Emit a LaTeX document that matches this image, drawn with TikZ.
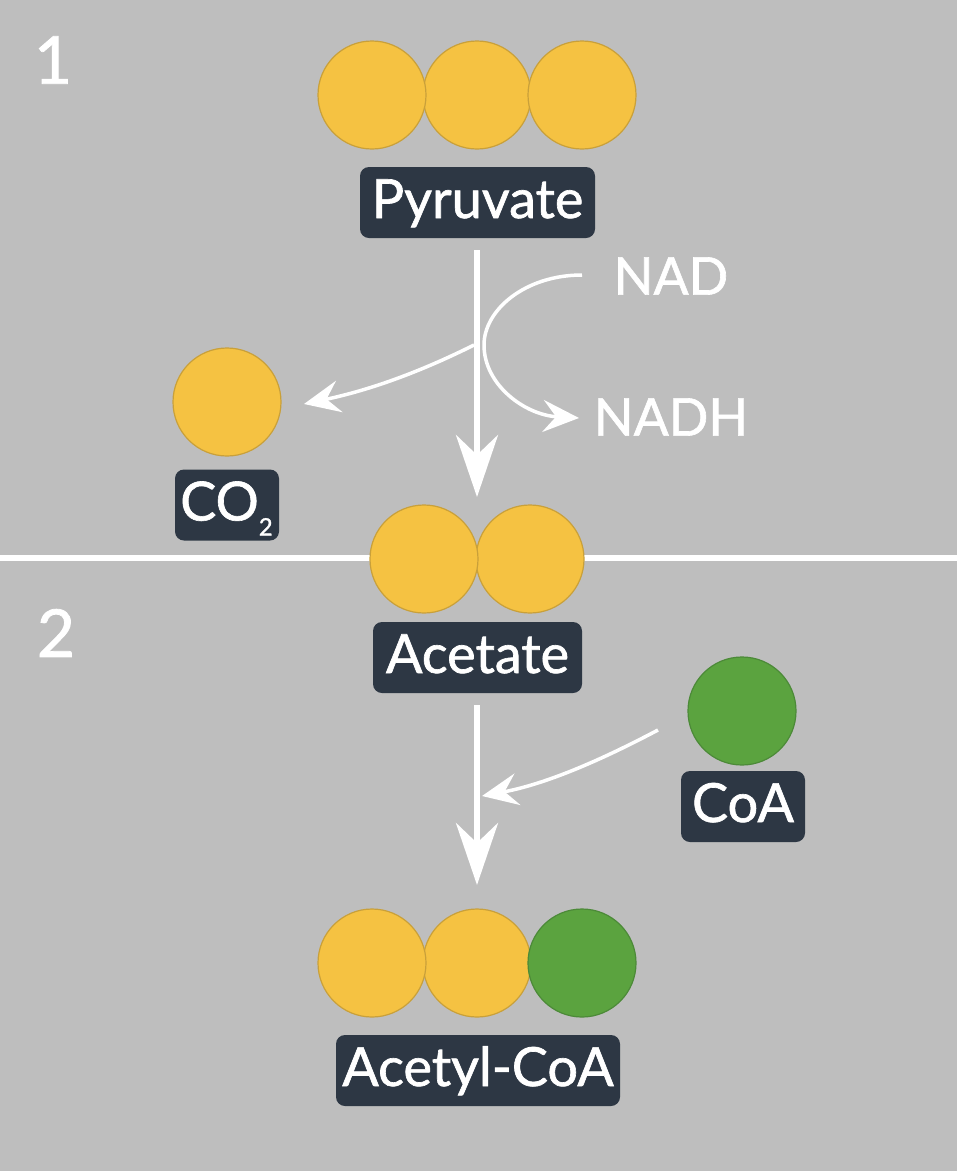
\documentclass[tikz,border=0pt]{standalone}
\usepackage{fontspec}
\setmainfont{Lato}
\newfontfamily\lblfont{Lato}[FakeBold=1.2]
\usetikzlibrary{arrows.meta}
\definecolor{bgc}{HTML}{BEBEBE}
\definecolor{yel}{HTML}{F5C242}
\definecolor{yeld}{HTML}{C9A03A}
\definecolor{grn}{HTML}{5BA33F}
\definecolor{grnd}{HTML}{4C8A38}
\definecolor{dark}{HTML}{2D3744}
\tikzset{
  x=1pt,y=-1pt,
  yball/.style={circle,draw=yeld,fill=yel,line width=1.2pt,minimum size=108pt,inner sep=0pt},
  gball/.style={circle,draw=grnd,fill=grn,line width=1.2pt,minimum size=108pt,inner sep=0pt},
  lab/.style={rectangle,rounded corners=9pt,fill=dark,text=white,font=\lblfont\fontsize{54}{58}\selectfont,inner sep=0pt,minimum height=71pt,text height=31pt,text depth=0pt,anchor=center},
  free/.style={text=white,font=\lblfont\fontsize{52}{56}\selectfont,inner sep=0pt},
  num/.style={text=white,font=\lblfont\fontsize{66}{70}\selectfont,inner sep=0pt},
  thick arrow/.style={draw=white,line width=6pt,-{Stealth[length=62pt,width=42pt,inset=20pt]}},
  thin arrow/.style={draw=white,line width=3.5pt,-{Stealth[length=36pt,width=32pt,inset=13pt]}}
}
\begin{document}
\begin{tikzpicture}
\useasboundingbox (0,0) rectangle (957,1171);
\fill[bgc] (0,0) rectangle (957,1171);
\coordinate (divL) at (0,558);
\coordinate (divR) at (957,558);
\draw[white,line width=6pt] (divL) -- (divR);
\node[num] (one) at (53,60) {1};
\node[num] (two) at (56,633) {2};
% pyruvate
\node[yball] (p3) at (477,95) {};
\node[yball] (p1) at (372,95) {};
\node[yball] (p2) at (582,95) {};
\node[lab,minimum width=235pt] (pyr) at (477.5,202.5) {Pyruvate};
% CO2
\node[yball] (c1) at (227,402) {};
\node[lab,minimum width=104pt] (co2) at (227,505) {\hspace{-1pt}CO\raisebox{-15pt}{\fontsize{24}{26}\selectfont 2}};
% acetate
\node[yball] (a2) at (530,559) {};
\node[yball] (a1) at (424,559) {};
\node[lab,minimum width=209pt] (ace) at (477.5,657.5) {Acetate};
% CoA
\node[gball] (g1) at (742,711) {};
\node[lab,minimum width=124pt] (coa) at (743,806.5) {CoA};
% acetyl-CoA
\node[yball] (b2) at (477,963) {};
\node[yball] (b1) at (372,963) {};
\node[gball] (b3) at (582,963) {};
\node[lab,minimum width=284pt] (acc) at (478,1070.5) {Acetyl-CoA};
% text
\node[free] (nad) at (671,276) {NAD};
\node[free] (nadh) at (671,417) {NADH};
% connectors
\coordinate (s1) at (477,250);
\coordinate (e1) at (477,497);
\draw[thick arrow] (s1) -- (e1);
\coordinate (s2) at (477,705);
\coordinate (e2) at (477,885);
\draw[thick arrow] (s2) -- (e2);
\coordinate (nadS) at (582,275);
\coordinate (nadE) at (579,418);
\draw[thin arrow] (nadS) .. controls (525,275) and (484,310) .. (484,345) .. controls (484,385) and (525,415) .. (nadE);
\coordinate (coS) at (474,345);
\coordinate (coE) at (304,404);
\draw[thin arrow] (coS) .. controls (420,372) and (370,390) .. (coE);
\coordinate (caS) at (658,730);
\coordinate (caE) at (482,796);
\draw[thin arrow] (caS) .. controls (590,766) and (540,785) .. (caE);
\end{tikzpicture}
\end{document}
